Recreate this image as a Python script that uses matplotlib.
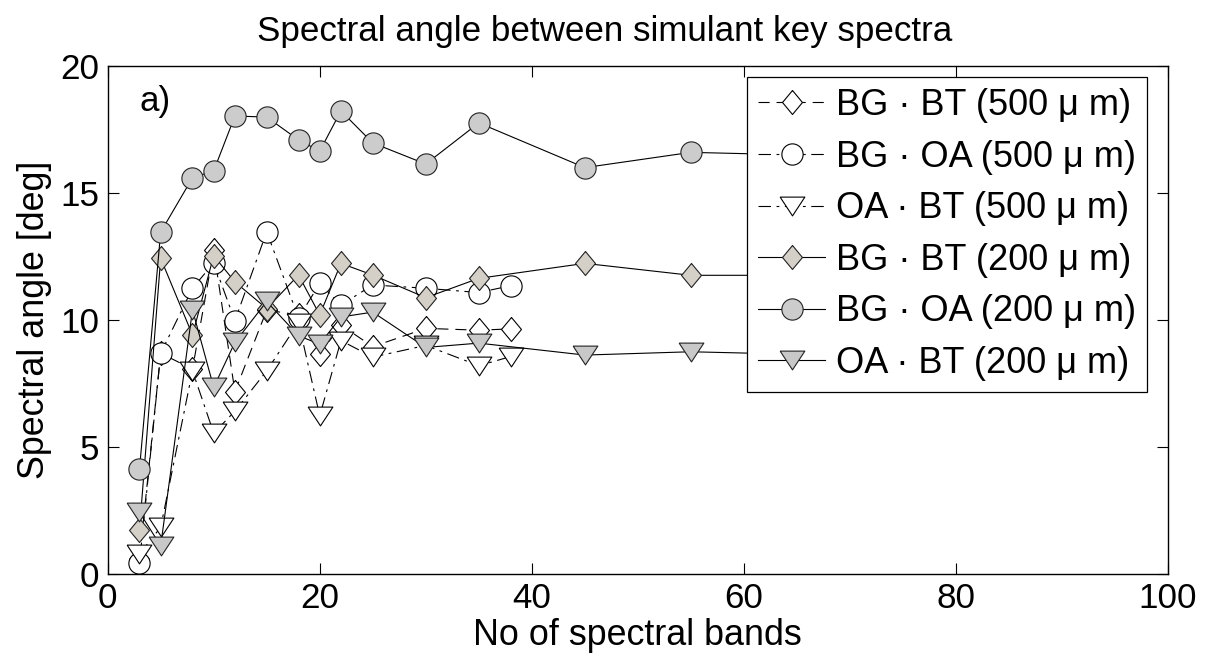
import matplotlib
matplotlib.use("Agg")
import matplotlib.pyplot as plt

plt.rcParams['font.family'] = ['Liberation Sans', 'DejaVu Sans']
plt.rcParams['lines.scale_dashes'] = False

# ---- data ----
x500 = [3, 5, 8, 10, 12, 15, 18, 20, 22, 25, 30, 35, 38]
bgbt_500 = [0.6, 8.69, 8.07, 12.75, 7.18, 10.39, 10.2, 8.65, 9.8, 8.95, 9.67, 9.6, 9.65]
bgoa_500 = [0.42, 8.69, 11.25, 12.25, 9.97, 13.48, 10.08, 11.44, 10.59, 11.38, 11.25, 11.08, 11.35]
oabt_500 = [0.79, 1.84, 8.0, 5.55, 6.41, 8.0, 9.9, 6.23, 9.19, 8.54, 9.0, 8.2, 8.56]

x200 = [3, 5, 8, 10, 12, 15, 18, 20, 22, 25, 30, 35, 45, 55, 65]
bgbt_200 = [1.73, 12.43, 9.41, 12.53, 11.5, 10.45, 11.77, 10.2, 12.23, 11.77, 10.88, 11.64, 12.23, 11.76, 11.76]
bgoa_200 = [4.13, 13.46, 15.6, 15.87, 18.03, 17.99, 17.09, 16.65, 18.23, 16.97, 16.14, 17.76, 16.0, 16.6, 16.5]
oabt_200 = [2.43, 1.11, 10.4, 7.35, 9.12, 10.73, 9.38, 9.05, 10.12, 10.31, 8.92, 9.09, 8.62, 8.75, 8.65]

labels = ['BG · BT (500 μ m)', 'BG · OA (500 μ m)', 'OA · BT (500 μ m)',
          'BG · BT (200 μ m)', 'BG · OA (200 μ m)', 'OA · BT (200 μ m)']
xticks = [0, 20, 40, 60, 80, 100]
yticks = [0, 5, 10, 15, 20]

# ---- markers ----
tri = [(-1, 0.76), (1, 0.76), (0, -0.76), (-1, 0.76)]
dia = [(0, 1), (0.83, 0), (0, -1), (-0.83, 0), (0, 1)]

fig = plt.figure(figsize=(12.07, 6.62), dpi=100)
ax = fig.add_axes([0.0892, 0.1329, 0.8785, 0.7674])

lw = 0.8
mew = 0.8
dashed = (0, (8, 5))
dashdot = (0, (9, 4, 2, 4))

ax.plot(x500, bgbt_500, linestyle=dashed, color='k', lw=lw, marker=dia, ms=17.3,
        mfc='white', mec='k', mew=mew, label=labels[0])
ax.plot(x500, bgoa_500, linestyle=dashdot, color='k', lw=lw, marker='o', ms=15.3,
        mfc='white', mec='k', mew=mew, label=labels[1])
ax.plot(x500, oabt_500, linestyle=dashdot, color='k', lw=lw, marker=tri, ms=17.8,
        mfc='white', mec='k', mew=mew, label=labels[2])
ax.plot(x200, bgbt_200, linestyle='-', color='k', lw=lw, marker=dia, ms=17.3,
        mfc='#d4d0c8', mec='#222222', mew=mew, label=labels[3])
ax.plot(x200, bgoa_200, linestyle='-', color='k', lw=lw, marker='o', ms=15.3,
        mfc='#cccccc', mec='#222222', mew=mew, label=labels[4])
ax.plot(x200, oabt_200, linestyle='-', color='k', lw=lw, marker=tri, ms=17.8,
        mfc='#c8c8c8', mec='#222222', mew=mew, label=labels[5])

ax.set_xlim(0, 100)
ax.set_ylim(0, 20)
ax.set_xticks(xticks)
ax.set_yticks(yticks)
ax.tick_params(direction='in', length=8, width=0.8, labelsize=25.2,
               top=True, right=True, pad=6)
for s in ax.spines.values():
    s.set_linewidth(1.0)

ax.set_xlabel('No of spectral bands', fontsize=25.8, labelpad=2)
ax.set_ylabel('Spectral angle [deg]', fontsize=25.8, labelpad=6)
fig.text(0.501, 0.952, 'Spectral angle between simulant key spectra',
         fontsize=25.2, ha='center', va='center')
ax.text(0.030, 0.931, 'a)', transform=ax.transAxes, fontsize=25.2,
        ha='left', va='center')

leg = ax.legend(loc='upper right', bbox_to_anchor=(0.980, 0.978), fontsize=26,
                frameon=True, fancybox=False, edgecolor='k', framealpha=1,
                handlelength=1.85, handletextpad=0.3, labelspacing=0.46,
                borderpad=0.3, borderaxespad=0.0)
leg.get_frame().set_linewidth(0.9)
leg.set_zorder(10)

fig.savefig('out.png', dpi=100)
